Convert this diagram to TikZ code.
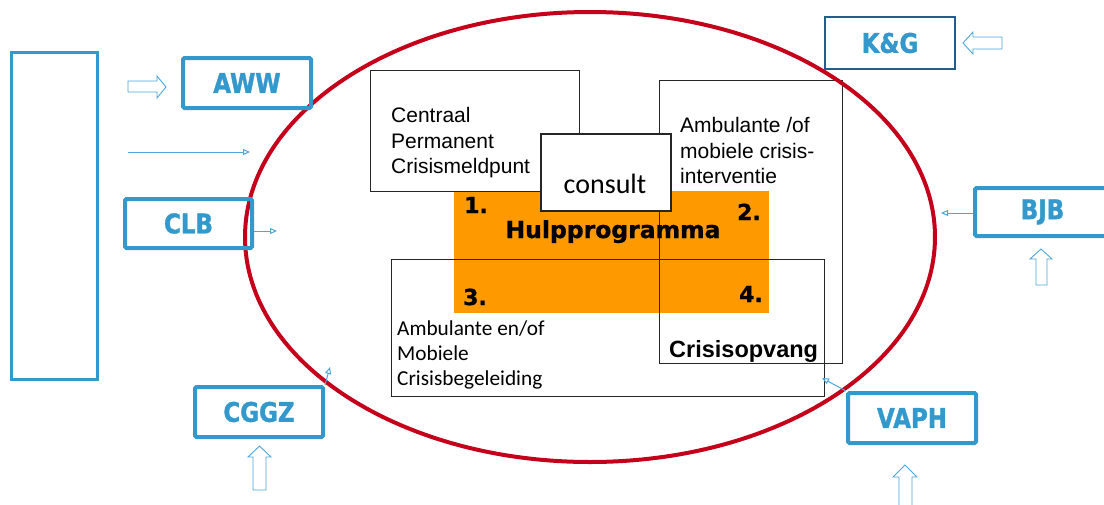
\documentclass[tikz,border=0pt]{standalone}
\usepackage{fontspec}
\setmainfont{Liberation Sans}
\newfontfamily\djv{DejaVu Sans}[BoldFeatures={FakeBold=1}]
\newfontfamily\lblfont{DejaVu Sans}[FakeStretch=0.85, BoldFeatures={FakeBold=1.2}]
\newfontfamily\calfont{Carlito}
\usetikzlibrary{arrows.meta}
\definecolor{partnerblue}{HTML}{3399CC}
\definecolor{kgblue}{HTML}{245C8E}
\definecolor{arrowblue}{HTML}{4FA6D8}
\definecolor{ringred}{HTML}{C4001A}
\definecolor{hulporange}{HTML}{FF9900}
\tikzset{
  partner/.style={draw=partnerblue, line width=4pt, rounded corners=1.5pt,
    minimum width=128pt, minimum height=50pt, inner sep=0pt,
    text=partnerblue, font=\lblfont\bfseries\fontsize{27}{30}\selectfont},
  infobox/.style={draw=black!85, line width=1pt, inner sep=0pt},
  txt/.style={anchor=base west, inner sep=0pt, font=\fontsize{21}{26}\selectfont},
  caltxt/.style={anchor=base west, inner sep=0pt, font=\calfont\fontsize{21.3}{26}\selectfont},
  numtxt/.style={inner sep=0pt, font=\djv\bfseries\fontsize{22}{26}\selectfont},
  blockarrow/.style={draw=arrowblue, line width=0.9pt, line join=miter},
  thinarrow/.style={draw=arrowblue, line width=1pt,
    -{Triangle[open, length=7pt, width=6pt]}},
}
\begin{document}
\begin{tikzpicture}[x=1pt, y=-1pt]
\clip (0,0) rectangle (1104,504);
\fill[white] (0,0) rectangle (1104,504);

% central programme block
\node[fill=hulporange, minimum width=315pt, minimum height=122pt, inner sep=0pt]
  (hulp) at (611.5,252) {};

% service boxes around the programme
\node[infobox, minimum width=183pt, minimum height=283pt] (ambi) at (750.5,221.5) {};
\node[infobox, minimum width=433pt, minimum height=137pt] (ambb) at (608,327.5) {};
\node[infobox, fill=white, minimum width=209pt, minimum height=121pt] (cpc) at (474.5,130.5) {};
\node[infobox, fill=white, line width=1.3pt, minimum width=130pt, minimum height=77pt] (cons) at (606,172.5) {};

% texts of the boxes
\node[txt] (cpc1) at (391,122) {Centraal};
\node[txt] (cpc2) at (391,148) {Permanent};
\node[txt] (cpc3) at (391,173) {Crisismeldpunt};
\node[txt] (ambi1) at (680,132) {Ambulante /of};
\node[txt] (ambi2) at (680,158) {mobiele crisis-};
\node[txt] (ambi3) at (680,183) {interventie};
\node[anchor=base, inner sep=0pt, font=\calfont\fontsize{28}{30}\selectfont] (constxt) at (605,193) {consult};
\node[caltxt] (ambb1) at (397,335) {Ambulante en/of};
\node[caltxt] (ambb2) at (397,360) {Mobiele};
\node[caltxt] (ambb3) at (397,385) {Crisisbegeleiding};
\node[anchor=base west, inner sep=0pt, font=\bfseries\fontsize{23.5}{26}\selectfont] (opv) at (669,357) {Crisisopvang};

% numbers and programme title
\node[numtxt, anchor=base west] (n1) at (464,213) {1.};
\node[numtxt, anchor=base east] (n2) at (761,220) {2.};
\node[numtxt, anchor=base west] (n3) at (463,305) {3.};
\node[numtxt, anchor=base east] (n4) at (763,302) {4.};
\node[anchor=base, inner sep=0pt, font=\djv\bfseries\fontsize{23.5}{26}\selectfont] (hulptxt) at (613,238) {Hulpprogramma};

% network ring
\draw[ringred, line width=4pt] (590,237) ellipse [x radius=345, y radius=225];

% partner boxes
\node[draw=partnerblue, line width=3pt, minimum width=86pt, minimum height=327pt, inner sep=0pt] (src) at (54.5,216) {};
\node[partner] (aww) at (247,83) {AWW};
\node[partner, minimum width=127pt, minimum height=49pt] (clb) at (188.5,223.5) {CLB};
\node[partner] (cggz) at (259,412) {CGGZ};
\node[partner] (vaph) at (912,418) {VAPH};
\node[partner, minimum width=135pt, minimum height=48pt] (bjb) at (1042.5,212) {BJB};
\node[partner, draw=kgblue, line width=2pt, rounded corners=0pt, minimum width=130pt, minimum height=52pt] (kg) at (890,43) {K\&G};

% thin arrows
\coordinate (ls) at (128,152);
\coordinate (le) at (250,152);
\coordinate (clbtip) at (277,231);
\coordinate (bjbtip) at (941,213);
\coordinate (cggztip) at (330,367);
\coordinate (vaphtip) at (822,378);
\draw[thinarrow] (ls) -- (le);
\draw[thinarrow] (clb.east |- clbtip) -- (clbtip);
\draw[thinarrow] (bjb.west |- bjbtip) -- (bjbtip);
\draw[thinarrow] (cggz.north east) -- (cggztip);
\draw[thinarrow] (vaph.north west) -- (vaphtip);

% block arrows
\draw[blockarrow] (128,81) -- (157,81) -- (157,76) -- (166,87) -- (157,98) -- (157,92) -- (128,92) -- cycle;
\draw[blockarrow] (1002,37) -- (973,37) -- (973,32) -- (963,43) -- (973,54) -- (973,49) -- (1002,49) -- cycle;
\draw[blockarrow] (1036,285) -- (1036,259) -- (1030,259) -- (1041,249) -- (1052,259) -- (1047,259) -- (1047,285) -- cycle;
\draw[blockarrow] (253,490) -- (253,457) -- (248,457) -- (259.5,446) -- (271,457) -- (266,457) -- (266,490) -- cycle;
\draw[blockarrow] (899,512) -- (899,477) -- (893,477) -- (905,465) -- (917,477) -- (912,477) -- (912,512) -- cycle;
\end{tikzpicture}
\end{document}
